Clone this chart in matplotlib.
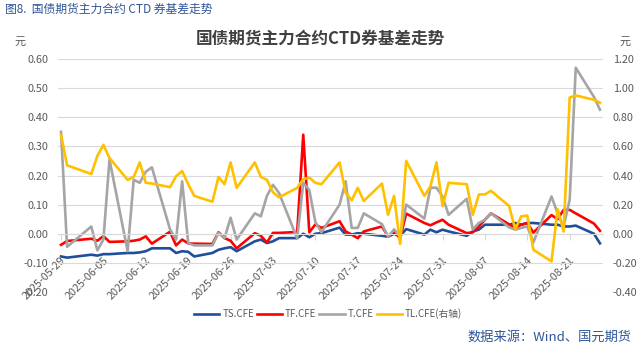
import pandas as pd
import matplotlib
matplotlib.use('Agg')
import matplotlib.pyplot as plt
import matplotlib.dates as mdates
from matplotlib.ticker import FormatStrFormatter
from matplotlib.transforms import ScaledTranslation

plt.rcParams['font.family'] = ['Noto Sans CJK SC', 'DejaVu Sans']

dates = ['2025-05-29', '2025-05-30',
         '2025-06-03', '2025-06-04', '2025-06-05', '2025-06-06',
         '2025-06-09', '2025-06-10', '2025-06-11', '2025-06-12', '2025-06-13',
         '2025-06-16', '2025-06-17', '2025-06-18', '2025-06-19', '2025-06-20',
         '2025-06-23', '2025-06-24', '2025-06-25', '2025-06-26', '2025-06-27',
         '2025-06-30', '2025-07-01', '2025-07-02', '2025-07-03', '2025-07-04',
         '2025-07-07', '2025-07-08', '2025-07-09', '2025-07-10', '2025-07-11',
         '2025-07-14', '2025-07-15', '2025-07-16', '2025-07-17', '2025-07-18',
         '2025-07-21', '2025-07-22', '2025-07-23', '2025-07-24', '2025-07-25',
         '2025-07-28', '2025-07-29', '2025-07-30', '2025-07-31', '2025-08-01',
         '2025-08-04', '2025-08-05', '2025-08-06', '2025-08-07', '2025-08-08',
         '2025-08-11', '2025-08-12', '2025-08-13', '2025-08-14', '2025-08-15',
         '2025-08-18', '2025-08-19', '2025-08-20', '2025-08-21', '2025-08-22',
         '2025-08-25', '2025-08-26']

ts = [-0.078, -0.082,
      -0.072, -0.075, -0.070, -0.070,
      -0.066, -0.066, -0.064, -0.060, -0.050,
      -0.050, -0.066, -0.060, -0.062, -0.078,
      -0.066, -0.055, -0.050, -0.046, -0.060,
      -0.026, -0.020, -0.032, -0.026, -0.015,
      -0.015, 0.000, -0.012, 0.000, 0.002,
      0.021, -0.003, -0.003, 0.002, 0.000,
      -0.007, -0.010, 0.000, -0.007, 0.016,
      -0.003, 0.014, 0.005, 0.014, 0.008,
      -0.007, 0.008, 0.014, 0.031, 0.031,
      0.031, 0.037, 0.031, 0.037, 0.037,
      0.031, 0.031, 0.025, 0.025, 0.028,
      0.000, -0.033]

tf = [-0.038, -0.025,
      -0.017, -0.024, -0.008, -0.028,
      -0.026, -0.024, -0.020, -0.009, -0.034,
      0.007, -0.040, -0.020, -0.033, -0.034,
      -0.035, 0.005, -0.015, -0.024, -0.050,
      0.002, -0.007, -0.030, 0.003, 0.003,
      0.006, 0.340, 0.005, 0.032, 0.020,
      0.043, 0.008, -0.003, -0.015, 0.008,
      0.025, -0.009, 0.005, -0.015, 0.069,
      0.037, 0.029, 0.039, 0.048, 0.031,
      0.002, 0.005, 0.025, 0.048, 0.070,
      0.032, 0.020, 0.031, 0.037, 0.004,
      0.064, 0.050, 0.082, 0.082, 0.070,
      0.035, 0.010]

t = [0.350, -0.045,
     0.025, -0.057, -0.020, 0.255,
     -0.060, 0.185, 0.175, 0.213, 0.228,
     0.015, -0.020, 0.180, -0.032, -0.040,
     -0.040, 0.003, -0.015, 0.055, -0.020,
     0.070, 0.060, 0.130, 0.168, 0.140,
     -0.016, 0.175, 0.150, 0.040, 0.005,
     0.100, 0.180, 0.020, 0.020, 0.070,
     0.033, -0.010, 0.015, -0.010, 0.100,
     0.052, 0.158, 0.158, 0.128, 0.065,
     0.120, 0.015, 0.037, 0.048, 0.070,
     0.022, 0.014, 0.020, 0.025, -0.030,
     0.128, 0.070, 0.025, 0.117, 0.570,
     0.470, 0.426]

tl = [0.68, 0.47,
      0.41, 0.535, 0.61, 0.52,
      0.37, 0.39, 0.49, 0.35, 0.345,
      0.32, 0.395, 0.43, 0.34, 0.26,
      0.22, 0.39, 0.34, 0.49, 0.315,
      0.49, 0.39, 0.37, 0.285, 0.25,
      0.315, 0.375, 0.385, 0.35, 0.34,
      0.49, 0.28, 0.23, 0.315, 0.225,
      0.345, 0.13, 0.26, -0.07, 0.50,
      0.26, 0.325, 0.49, 0.19, 0.35,
      0.34, 0.13, 0.27, 0.27, 0.295,
      0.19, 0.03, 0.12, 0.125, -0.11,
      -0.19, 0.17, 0.015, 0.935, 0.95,
      0.92, 0.90]

x = pd.to_datetime(dates)
week_ticks = pd.date_range('2025-05-29', '2025-08-21', freq='7D')

grid_c = '#D9D9D9'
lab_c = '#595959'

fig = plt.figure(figsize=(6.39, 3.51), dpi=100)
ax = fig.add_axes([58/639, 1-292/351, 545/639, 233/351])
ax2 = ax.twinx()

l1, = ax.plot(x, ts, color='#1F4E9A', lw=1.9, label='TS.CFE')
l2, = ax.plot(x, tf, color='#FF0000', lw=1.9, label='TF.CFE')
l3, = ax.plot(x, t, color='#A5A5A5', lw=1.9, label='T.CFE')
l4, = ax2.plot(x, tl, color='#FFC000', lw=1.9, label='TL.CFE(右轴)')

ax.set_ylim(-0.2, 0.6)
ax2.set_ylim(-0.4, 1.2)
ax.set_yticks([-0.2, -0.1, 0, 0.1, 0.2, 0.3, 0.4, 0.5, 0.6])
ax2.set_yticks([-0.4, -0.2, 0, 0.2, 0.4, 0.6, 0.8, 1.0, 1.2])
ax.yaxis.set_major_formatter(FormatStrFormatter('%.2f'))
ax2.yaxis.set_major_formatter(FormatStrFormatter('%.2f'))
ax.set_xlim(pd.Timestamp('2025-05-28 12:00'), pd.Timestamp('2025-08-26 12:00'))
ax.set_xticks(week_ticks)
ax.xaxis.set_major_formatter(mdates.DateFormatter('%Y-%m-%d'))

ax.grid(axis='y', color=grid_c, lw=0.8)
ax.set_axisbelow(True)
for a in (ax, ax2):
    for s in ('top', 'left', 'right'):
        a.spines[s].set_visible(False)
ax2.spines['bottom'].set_visible(False)
ax.spines['bottom'].set_position(('data', 0))
ax.spines['bottom'].set_color(grid_c)
ax.spines['bottom'].set_linewidth(0.8)

ax.tick_params(axis='y', length=0, pad=7, labelsize=7.8, labelcolor=lab_c)
ax2.tick_params(axis='y', length=0, pad=7, labelsize=7.8, labelcolor=lab_c)
ax.tick_params(axis='x', length=4, width=0.8, color=grid_c, direction='out',
               pad=14, labelsize=7.8, labelcolor=lab_c)
for lab in ax.get_xticklabels():
    lab.set_rotation(45)
    lab.set_ha('right')
    lab.set_va('center')
    lab.set_rotation_mode('anchor')
    lab.set_transform(lab.get_transform() + ScaledTranslation(3/100, 0, fig.dpi_scale_trans))

fig.text(20/639, 1-42/351, '元', fontsize=8, color=lab_c, ha='center', va='center')
fig.text(625/639, 1-42/351, '元', fontsize=8, color=lab_c, ha='center', va='center')
fig.text(320/639, 1-38/351, '国债期货主力合约CTD券基差走势', fontsize=12,
         fontweight='bold', color='#404040', ha='center', va='center')
fig.text(5/639, 1-9/351, '图8.  国债期货主力合约 CTD 券基差走势', fontsize=8.5,
         color='#2F5597', ha='left', va='center')
fig.text(632/639, 1-337/351, '数据来源：Wind、国元期货', fontsize=9.5,
         color='#2F5597', ha='right', va='center')

fig.legend(handles=[l1, l2, l3, l4], loc='center', bbox_to_anchor=(328/639, 1-314/351),
           ncol=4, frameon=False, fontsize=7, handlelength=2.6, handletextpad=0.3,
           columnspacing=0.3, labelcolor=lab_c)

fig.savefig('out.png', dpi=100)
